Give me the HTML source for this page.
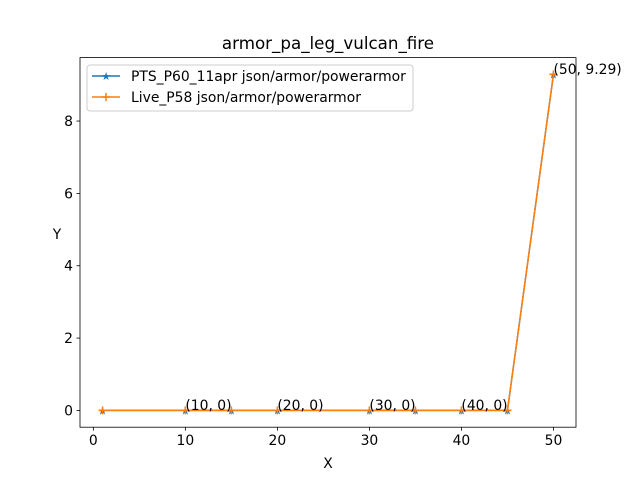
<!DOCTYPE html>
<html><head><meta charset="utf-8"><style>
body{margin:0;background:#fff;}
svg{display:block;font-family:"DejaVu Sans","Liberation Sans",sans-serif;}
</style></head><body>
<svg id="chart" width="640" height="480">
<rect width="640" height="480" fill="#fff"/>
<g id="series"></g>
<g id="annot"></g>
<rect x="80" y="57.6" width="496" height="369.6" fill="none" stroke="#000" stroke-width="0.8"/>
<g id="axes"></g>
<text x="328" y="49" text-anchor="middle" font-size="16.7">armor_pa_leg_vulcan_fire</text>
<text x="328" y="468" text-anchor="middle" font-size="13.9">X</text>
<text x="57" y="239" text-anchor="middle" font-size="13.9">Y</text>
<g>
<rect x="87" y="65" width="326" height="46" rx="3" fill="#fff" fill-opacity="0.8" stroke="#ccc"/>
<g>
<line x1="92" y1="76" x2="120" y2="76" stroke="#1f77b4" stroke-width="1.5"/>
<text x="106" y="80" text-anchor="middle" font-size="11" fill="#1f77b4">★</text>
<text x="131" y="81" font-size="13.9">PTS_P60_11apr json/armor/powerarmor</text>
</g>
<g>
<line x1="92" y1="97" x2="120" y2="97" stroke="#ff7f0e" stroke-width="1.5"/>
<path d="M106 93v8M102 97h8" stroke="#ff7f0e" stroke-width="1.5"/>
<text x="131" y="102" font-size="13.9">Live_P58 json/armor/powerarmor</text>
</g>
</g>
</svg>
<script>
const xs=[1,10,15,20,30,35,40,45,50];
const ptsY=[0,0,0,0,0,0,0,0,9.29];
const liveY=[0,0,0,0,0,0,0,0,9.29];
const xTicks=[0,10,20,30,40,50];
const yTicks=[0,2,4,6,8];
const annX=[10,20,30,40,50];
const annY=[0,0,0,0,9.29];
const annLabels=["(10, 0)","(20, 0)","(30, 0)","(40, 0)","(50, 9.29)"];
const NS="http://www.w3.org/2000/svg";
const L=80,R=576,T=57.6,B=427.2;
const xmin=-1.45,xmax=52.45,ymin=-0.4645,ymax=9.7545;
const sx=v=>L+(v-xmin)/(xmax-xmin)*(R-L);
const sy=v=>B-(v-ymin)/(ymax-ymin)*(B-T);
function mk(t,a,p){const e=document.createElementNS(NS,t);for(const k in a)e.setAttribute(k,a[k]);p.appendChild(e);return e;}
const axes=document.getElementById('axes');
xTicks.forEach(v=>{const g=mk('g',{},axes);


mk('line',{x1:sx(v),x2:sx(v),y1:B,y2:B+3.5,stroke:'#000','stroke-width':0.8},g);
const t=mk('text',{x:sx(v),y:B+18,'text-anchor':'middle','font-size':13.9},g);t.textContent=v;});
yTicks.forEach(v=>{const g=mk('g',{},axes);


mk('line',{x1:L-3.5,x2:L,y1:sy(v),y2:sy(v),stroke:'#000','stroke-width':0.8},g);
const t=mk('text',{x:L-7,y:sy(v)+5,'text-anchor':'end','font-size':13.9},g);t.textContent=v;});
const ser=document.getElementById('series');
function line(ys,color,name,marker){
const g=mk('g',{},ser);


mk('polyline',{points:xs.map((x,i)=>sx(x)+','+sy(ys[i])).join(' '),fill:'none',stroke:color,'stroke-width':1.5,'stroke-linejoin':'round'},g);
xs.forEach((x,i)=>{
 if(marker==='star'){const t=mk('text',{x:sx(x),y:sy(ys[i])+4,'text-anchor':'middle','font-size':11,fill:color},g);t.textContent='★';}
 else{const p=mk('path',{d:`M${sx(x)} ${sy(ys[i])-4}v8M${sx(x)-4} ${sy(ys[i])}h8`,stroke:color,'stroke-width':1.5},g);}
});}
line(ptsY,'#1f77b4','series-pts','star');
line(liveY,'#ff7f0e','series-live','plus');
const an=document.getElementById('annot');
annX.forEach((x,i)=>{const t=mk('text',{x:sx(x),y:sy(annY[i])-0.5,'font-size':13.9},an);t.textContent=annLabels[i];

});
</script>
</body></html>
